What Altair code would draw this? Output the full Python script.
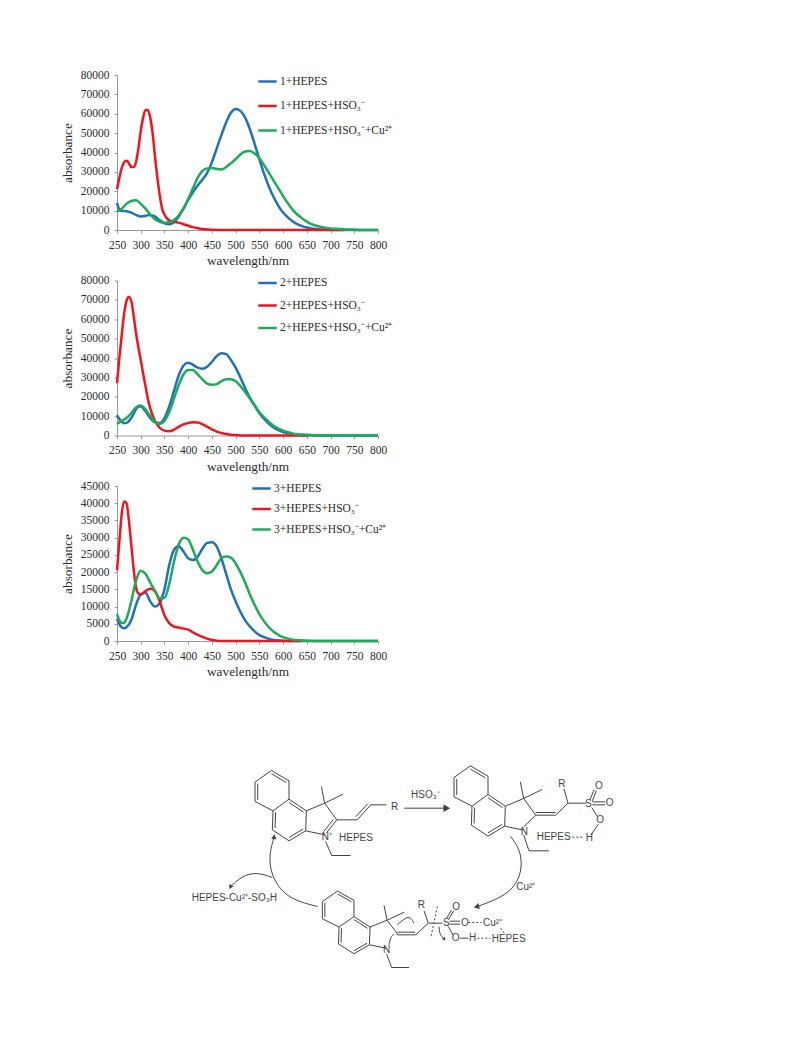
import altair as alt
import pandas as pd

# ---------- spectra ----------
p1_blue = [(250,14000),(255,10500),(260,9800),(270,9700),(280,9000),(290,7800),(300,7000),(310,7300),(320,7800),(330,7000),(340,5000),(350,3500),(360,3000),(370,4000),(380,7000),(390,11000),(400,15500),(410,19500),(420,23000),(430,26000),(440,29500),(450,35000),(460,42000),(470,49000),(480,55500),(490,60500),(500,62500),(510,61500),(520,58000),(530,52000),(540,44500),(550,36500),(560,29000),(570,22500),(580,17000),(590,12500),(600,9000),(610,6500),(620,4500),(630,3000),(640,2000),(650,1300),(660,800),(670,500),(680,300),(700,100),(750,0),(800,0)]
p1_red = [(250,21000),(255,27000),(260,32000),(265,35000),(270,35800),(275,34500),(280,32500),(285,32500),(290,35000),(295,42000),(300,51000),(305,58000),(310,62000),(315,62000),(320,58000),(325,50000),(330,38000),(335,27000),(340,18000),(345,11000),(350,8000),(355,6000),(360,5000),(370,4200),(380,3800),(390,3000),(400,2200),(410,1500),(420,900),(430,500),(440,300),(450,100),(460,0),(730,0)]
p1_green = [(250,9500),(260,11000),(270,13500),(280,15000),(290,15300),(300,13500),(310,11000),(320,8000),(330,5500),(340,4200),(350,3800),(360,4000),(370,5200),(380,7500),(390,11000),(400,16000),(410,21500),(420,27000),(430,30500),(440,31800),(450,32000),(460,31500),(470,31200),(480,32500),(490,34500),(500,36500),(510,39000),(520,40500),(530,40800),(540,39500),(550,37000),(560,33500),(570,29500),(580,25500),(590,21500),(600,17500),(610,13800),(620,10500),(630,8000),(640,6000),(650,4300),(660,3000),(670,2200),(680,1600),(690,1100),(700,800),(720,500),(740,200),(760,50),(800,0)]

p2_blue = [(250,10500),(255,8500),(260,7000),(265,6300),(270,6500),(280,9000),(290,13500),(295,15000),(300,15000),(310,12500),(320,9000),(330,6800),(340,6500),(350,9000),(360,15000),(370,23000),(380,31000),(390,36000),(400,37500),(410,36500),(420,35000),(430,34500),(440,35500),(450,38000),(460,41000),(470,42500),(480,42000),(490,39000),(500,35000),(510,30000),(520,24500),(530,19500),(540,15500),(550,11500),(560,8500),(570,6000),(580,4200),(590,2800),(600,1800),(610,1100),(620,700),(630,400),(650,100),(700,0),(800,0)]
p2_red = [(250,27000),(255,40000),(260,52000),(265,63000),(270,69500),(275,71500),(280,69500),(285,62000),(290,53000),(295,45500),(300,39000),(305,32000),(310,25500),(315,19000),(320,14000),(330,7500),(340,4000),(350,2500),(360,2200),(370,3000),(380,4500),(390,5700),(400,6500),(410,6800),(420,6700),(430,5800),(440,4500),(450,3200),(460,2000),(470,1300),(480,800),(490,400),(500,200),(510,50),(520,0),(650,0)]
p2_green = [(250,6000),(260,7500),(270,9000),(280,11500),(290,14500),(300,15500),(310,13500),(320,10000),(330,7000),(340,6000),(350,7500),(360,12000),(370,19000),(380,26000),(390,31500),(400,33800),(410,33800),(420,31500),(430,29000),(440,26800),(450,26200),(460,26500),(470,28000),(480,29000),(490,29000),(500,28000),(510,25500),(520,22500),(530,19000),(540,15500),(550,12000),(560,9300),(570,7000),(580,5000),(590,3500),(600,2500),(610,1700),(620,1100),(630,700),(640,500),(660,200),(680,50),(700,0),(800,0)]

p3_blue = [(250,6500),(255,4800),(260,4000),(265,3700),(270,4000),(280,6000),(290,10500),(300,13500),(310,14000),(320,11500),(330,10000),(340,11000),(350,15000),(360,22000),(370,26500),(380,27500),(390,26000),(400,24000),(410,23500),(420,24500),(430,26800),(440,28500),(450,28700),(460,27500),(470,24000),(480,19500),(490,15000),(500,11500),(510,8500),(520,6000),(530,4200),(540,2800),(550,1700),(560,1100),(570,600),(580,300),(600,100),(620,0),(800,0)]
p3_red = [(250,20500),(255,29000),(260,37000),(265,40500),(270,40000),(275,35000),(280,28000),(285,21000),(290,15500),(295,13800),(300,13500),(310,14500),(320,15200),(330,14500),(340,11500),(350,7500),(360,5200),(370,4200),(380,3900),(390,3600),(400,3300),(410,2500),(420,1800),(430,1200),(440,700),(450,300),(460,100),(470,0),(640,0)]
p3_green = [(250,7800),(255,6000),(260,5200),(265,5300),(270,6500),(280,11500),(290,17500),(300,20400),(310,19500),(320,17000),(330,14500),(340,12400),(350,12500),(360,16500),(370,23000),(380,28000),(390,30000),(400,29500),(410,26500),(420,23000),(430,20500),(440,19700),(450,20200),(460,22000),(470,24000),(480,24500),(490,24200),(500,22500),(510,20000),(520,17000),(530,13500),(540,10500),(550,7800),(560,5700),(570,4000),(580,2700),(590,1800),(600,1100),(610,700),(620,400),(640,150),(660,0),(800,0)]

suffixes = ["+HEPES", "+HEPES+HSO₃⁻", "+HEPES+HSO₃⁻+Cu²⁺"]
colors = ["#1F72B8", "#F0141E", "#1CAB58"]
x_ticks = list(range(250, 801, 50))
ticks_80 = list(range(0, 80001, 10000))
ticks_45 = list(range(0, 45001, 5000))

SERIF = "Liberation Serif"
TEXT = "#2b2b2b"


def panel(num, series, ymax, yticks, lx, ly, rowpad):
    names = [num + s for s in suffixes]
    rows = []
    for name, pts in zip(names, series):
        rows += [{"s": name, "w": w, "v": v} for w, v in pts]
    return alt.Chart(pd.DataFrame(rows)).mark_line(
        strokeWidth=2.5, interpolate="monotone"
    ).encode(
        x=alt.X("w:Q", scale=alt.Scale(domain=[250, 800], nice=False),
                axis=alt.Axis(values=x_ticks, title="wavelength/nm", grid=False, format="d",
                              labelFont=SERIF, labelFontSize=11.5, labelColor=TEXT,
                              titleFont=SERIF, titleFontSize=13.3, titleFontWeight="normal", titleColor=TEXT,
                              domainColor="#999999", tickColor="#999999", tickSize=3,
                              labelPadding=6, titlePadding=3, labelOverlap=False, labelFlush=False)),
        y=alt.Y("v:Q", scale=alt.Scale(domain=[0, ymax], nice=False),
                axis=alt.Axis(values=yticks, title="absorbance", grid=False, format="d",
                              labelFont=SERIF, labelFontSize=11.5, labelColor=TEXT,
                              titleFont=SERIF, titleFontSize=13.3, titleFontWeight="normal", titleColor=TEXT,
                              domainColor="#999999", tickColor="#999999", tickSize=3,
                              labelPadding=5, titlePadding=6, labelOverlap=False)),
        color=alt.Color("s:N", scale=alt.Scale(domain=names, range=colors),
                        legend=alt.Legend(orient="none", legendX=lx, legendY=ly, title=None,
                                          symbolType="stroke", symbolSize=340, symbolStrokeWidth=2.5,
                                          labelFont=SERIF, labelFontSize=11.5, labelColor=TEXT,
                                          labelLimit=300, labelOffset=2, rowPadding=rowpad, padding=0)),
    ).properties(width=261, height=155)


c1 = panel("1", [p1_blue, p1_red, p1_green], 80000, ticks_80, 140, -4, 8.5)
c2 = panel("2", [p2_blue, p2_red, p2_green], 80000, ticks_80, 140, -8, 6.5)
c3 = panel("3", [p3_blue, p3_red, p3_green], 45000, ticks_45, 134, -8, 4.5)

# ---------- reaction scheme (coordinates in a 3x reference grid) ----------
core = {"A": (228, 92), "B": (277, 57), "C": (330, 88), "D": (330, 143), "E": (282, 178), "F": (228, 150),
        "G": (280, 235), "H": (330, 268), "I": (380, 238), "J": (382, 178), "K": (437, 155), "L": (473, 205),
        "N": (437, 250), "M1": (427, 105), "M2": (492, 128)}
core_bonds = ["AB", "BC", "CD", "DE", "EF", "FA", "EG", "GH", "HI", "IJ", "JD", "JK", "KL", "IN"]
core_doubles = [("F", "A", "upper"), ("B", "C", "upper"), ("E", "G", "lower"), ("H", "I", "lower"), ("D", "J", "lower")]
ring_centres = {"upper": (279, 118), "lower": (331, 205)}

struct2 = (597, -14, 1.0, 1.0)
struct1 = (0, 0, 1.0, 1.0)
struct3 = (430, 450, 0.93, 0.89)

segs = []


def add(*pts):
    segs.append(list(pts))


def xf(p, t):
    if t is struct3:
        return (430 + (p[0] - 228) * 0.93, 450 + (p[1] - 92) * 0.89)
    return (p[0] + t[0], p[1] + t[1])


for t in (struct1, struct2, struct3):
    for b in core_bonds:
        add(xf(core[b[0]], t), xf(core[b[1]], t))
    add(xf(core["K"], t), xf(core["M1"], t))
    add(xf(core["K"], t), xf(core["M2"], t))
    for a, b, r in core_doubles:
        c = ring_centres[r]
        pa = core[a]; pb = core[b]
        mid = lambda p: (p[0] + (c[0] - p[0]) * 0.16, p[1] + (c[1] - p[1]) * 0.16)
        add(xf(mid(pa), t), xf(mid(pb), t))

chain_lines = [
    # structure 1
    [(473, 205), (442, 245)], [(463, 204), (434, 240)],
    [(473, 205), (535, 205), (575, 160), (622, 160)], [(530, 196), (566, 157)],
    [(440, 270), (458, 312), (515, 312)],
    # structure 2
    [(1070, 191), (1034, 226)], [(1070, 191), (1130, 191), (1167, 155), (1222, 155)], [(1070, 183), (1130, 183)],
    [(1167, 155), (1155, 112)],
    [(1240, 148), (1252, 118)], [(1233, 145), (1245, 115)],
    [(1240, 151), (1278, 151)], [(1240, 160), (1278, 160)],
    [(1238, 168), (1255, 195)], [(1258, 218), (1236, 250)],
    [(1034, 250), (1050, 298), (1110, 298)],
    # structure 3
    [(655, 550), (710, 550), (748, 515), (790, 515)], [(655, 542), (708, 542)],
    [(748, 515), (735, 478)],
    [(803, 500), (818, 475)], [(809, 503), (824, 478)],
    [(812, 509), (843, 509)], [(812, 518), (843, 518)],
    [(808, 525), (822, 550)], [(842, 560), (868, 560)],
    [(623, 608), (638, 648), (690, 648)],
]
for c in chain_lines:
    add(*c)
add((675, 170), (800, 170))

seg_rows = []
for i, s in enumerate(segs):
    for j, (x, y) in enumerate(s):
        seg_rows.append({"id": i, "o": j, "x": x, "y": y})

curves = [
    [(995, 255), (1028, 300), (1028, 375), (985, 432), (895, 465)],
    [(415, 465), (320, 440), (275, 370), (270, 310), (285, 258)],
    [(280, 378), (235, 362), (190, 372), (155, 405)],
    [(655, 520), (690, 488), (705, 515)],
    [(630, 580), (635, 555), (645, 548)],
    [(780, 525), (782, 550), (795, 562)],
]
curve_rows = []
for i, s in enumerate(curves):
    for j, (x, y) in enumerate(s):
        curve_rows.append({"id": i, "o": j, "x": x, "y": y})

dashes = [
    [(775, 465), (755, 560)],
    [(868, 513), (908, 513)],
    [(895, 560), (935, 560)],
    [(965, 530), (978, 548)],
    [(1180, 257), (1210, 257)],
]
dash_rows = []
for i, s in enumerate(dashes):
    for j, (x, y) in enumerate(s):
        dash_rows.append({"id": i, "o": j, "x": x, "y": y})

heads = [(800, 170, 90, 60), (895, 465, 255, 40), (285, 258, 5, 30), (155, 405, 205, 25), (795, 562, 140, 14)]
head_df = pd.DataFrame(heads, columns=["x", "y", "a", "s"])

labels = [
    (636, 165, "R"), (480, 260, "HEPES"), (428, 257, "N⁺"), (696, 130, "HSO₃⁻"),
    (1138, 97, "R"), (1218, 157, "S"), (1248, 103, "O"), (1280, 155, "O"), (1252, 205, "O"),
    (1220, 260, "H"), (1073, 257, "HEPES"), (1025, 240, "N"), (1012, 405, "Cu²⁺"),
    (38, 440, "HEPES-Cu²⁺-SO₃H"), (716, 460, "R"), (792, 513, "S"), (820, 467, "O"), (846, 513, "O"),
    (818, 560, "O"), (870, 560, "H"), (912, 513, "Cu²⁺"), (938, 562, "HEPES"), (612, 595, "N"),
]
label_df = pd.DataFrame(labels, columns=["x", "y", "t"])

LEFT_PX, TOP_PX = 118, 682
W, H = 510, 300
xs = alt.Scale(domain=[(LEFT_PX - 180) * 3, (LEFT_PX - 180 + W) * 3], nice=False, zero=False)
ys = alt.Scale(domain=[(TOP_PX - 750 + H) * 3, (TOP_PX - 750) * 3], nice=False, zero=False)
X = alt.X("x:Q", scale=xs, axis=None)
Y = alt.Y("y:Q", scale=ys, axis=None)
INK = "#444444"

scheme = alt.layer(
    alt.Chart(pd.DataFrame(seg_rows)).mark_line(color=INK, strokeWidth=1).encode(x=X, y=Y, detail="id:N", order="o:Q"),
    alt.Chart(pd.DataFrame(curve_rows)).mark_line(color=INK, strokeWidth=1, interpolate="basis").encode(x=X, y=Y, detail="id:N", order="o:Q"),
    alt.Chart(pd.DataFrame(dash_rows)).mark_line(color=INK, strokeWidth=1, strokeDash=[2, 2]).encode(x=X, y=Y, detail="id:N", order="o:Q"),
    alt.Chart(head_df).mark_point(shape="triangle", filled=True, color=INK, opacity=1).encode(
        x=X, y=Y, angle=alt.Angle("a:Q", scale=None), size=alt.Size("s:Q", scale=None)),
    alt.Chart(label_df).mark_text(font="Liberation Sans", fontSize=10, color=INK, align="left", baseline="middle").encode(x=X, y=Y, text="t:N"),
).properties(width=W, height=H)

chart = alt.vconcat(c1, c2, c3, scheme, spacing=5.5).resolve_scale(color="independent").properties(
    padding={"left": 52, "top": 61, "right": 5, "bottom": 5}, background="white"
).configure_view(stroke=None)

chart.save("out.html", embed_options={"renderer": "svg", "actions": False})
